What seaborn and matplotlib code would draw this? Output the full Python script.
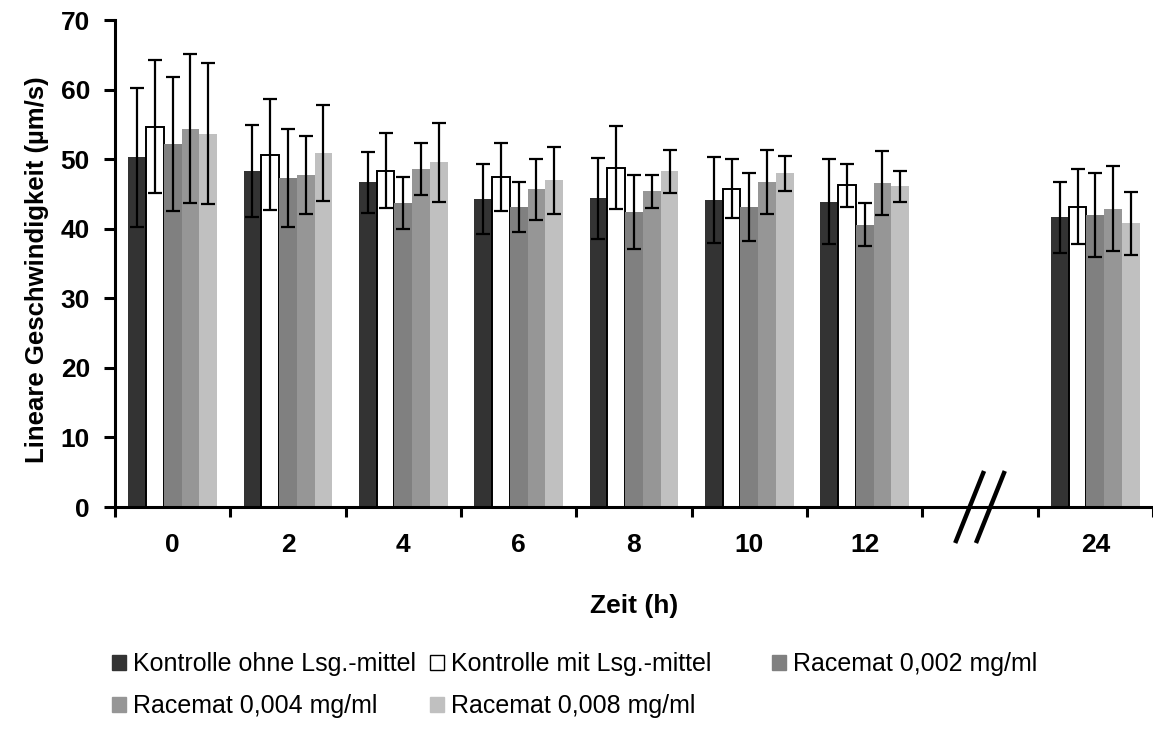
import numpy as np
import pandas as pd
import seaborn as sns
import matplotlib
matplotlib.use('Agg')
import matplotlib.pyplot as plt

# values
zeiten = ['0', '2', '4', '6', '8', '10', '12', '24']
gruppen = ['Kontrolle ohne Lsg.-mittel', 'Kontrolle mit Lsg.-mittel',
           'Racemat 0,002 mg/ml', 'Racemat 0,004 mg/ml', 'Racemat 0,008 mg/ml']
farben = ['#333333', '#ffffff', '#808080', '#969696', '#c0c0c0']

ohne_mw = [50.3, 48.3, 46.7, 44.3, 44.4, 44.2, 43.9, 41.7]
ohne_sd = [10.0, 6.6, 4.4, 5.1, 5.8, 6.2, 6.1, 5.1]
mit_mw = [54.7, 50.7, 48.4, 47.5, 48.8, 45.8, 46.3, 43.2]
mit_sd = [9.6, 8.0, 5.4, 4.9, 6.0, 4.2, 3.1, 5.4]
rac002_mw = [52.2, 47.3, 43.7, 43.2, 42.4, 43.2, 40.6, 42.0]
rac002_sd = [9.6, 7.0, 3.7, 3.6, 5.3, 4.9, 3.1, 6.0]
rac004_mw = [54.4, 47.7, 48.6, 45.7, 45.4, 46.7, 46.6, 42.9]
rac004_sd = [10.7, 5.6, 3.7, 4.4, 2.4, 4.6, 4.6, 6.1]
rac008_mw = [53.7, 50.9, 49.6, 47.0, 48.3, 48.0, 46.1, 40.8]
rac008_sd = [10.1, 6.9, 5.7, 4.8, 3.1, 2.5, 2.2, 4.5]

mittel = [ohne_mw, mit_mw, rac002_mw, rac004_mw, rac008_mw]
streu = [ohne_sd, mit_sd, rac002_sd, rac004_sd, rac008_sd]

rows = []
for g, mw, sd in zip(gruppen, mittel, streu):
    for z, m, s in zip(zeiten, mw, sd):
        rows.append({'Zeit': z, 'Gruppe': g, 'v': m, 'sd': s})
df = pd.DataFrame(rows)

# empty slot for the axis break between 12 and 24 h
order = zeiten[:7] + [' '] + zeiten[7:]

sns.set_style('white')
plt.rcParams['font.family'] = ['Liberation Sans', 'DejaVu Sans']
plt.rcParams['text.color'] = 'black'
plt.rcParams['axes.labelcolor'] = 'black'
plt.rcParams['xtick.color'] = 'black'
plt.rcParams['ytick.color'] = 'black'

fig = plt.figure(figsize=(11.53, 7.31), dpi=100)
ax = fig.add_axes([0.0997, 0.3064, 0.9003, 0.6658])

sns.barplot(data=df, x='Zeit', y='v', hue='Gruppe', order=order,
            hue_order=gruppen, palette=dict(zip(gruppen, farben)),
            width=0.77, errorbar=None, saturation=1, legend=False,
            linewidth=0, ax=ax)

# white control bars get a black outline
for bar in ax.containers[1]:
    bar.set_edgecolor('black')
    bar.set_linewidth(1.4)

# error bars (SD) on top of each bar
sd_lookup = df.set_index(['Zeit', 'Gruppe'])['sd']
for g, cont in zip(gruppen, ax.containers):
    xs, ys, es = [], [], []
    for bar in cont:
        xc = bar.get_x() + bar.get_width() / 2
        z = order[int(round(xc))]
        xs.append(xc)
        ys.append(bar.get_height())
        es.append(sd_lookup[(z, g)])
    ax.errorbar(xs, ys, yerr=es, fmt='none', ecolor='black',
                elinewidth=1.6, capsize=5.2, capthick=1.6, zorder=3)

ax.set_ylim(0, 70)
ax.set_yticks(np.arange(0, 71, 10))
ax.set_xlim(-0.5, len(order) - 0.5)
ax.set_xticks(np.arange(len(order)))
ax.set_xticklabels(order)
ax.set_xticks(np.arange(-0.5, len(order), 1), minor=True)

for s in ['top', 'right']:
    ax.spines[s].set_visible(False)
for s in ['left', 'bottom']:
    ax.spines[s].set_linewidth(2.2)
    ax.spines[s].set_color('black')

ax.tick_params(axis='x', which='major', length=0, pad=19, labelsize=19)
ax.tick_params(axis='x', which='minor', length=7, width=2.2, color='black',
               direction='out', bottom=True)
ax.tick_params(axis='y', length=8, width=2.2, color='black', direction='out',
               left=True, pad=10, labelsize=19)
for lab in ax.get_xticklabels() + ax.get_yticklabels():
    lab.set_fontweight('bold')

ax.set_xlabel('Zeit (h)', fontsize=19, fontweight='bold')
ax.set_ylabel('Lineare Geschwindigkeit (µm/s)', fontsize=18.5, fontweight='bold')
ax.xaxis.set_label_coords(0.5, -0.203)
ax.xaxis.label.set_va('center')
ax.yaxis.set_label_coords(-0.0751, 0.487)
ax.yaxis.label.set_va('center')

# axis break marks
trans = ax.get_xaxis_transform()
for dx in (-0.09, 0.09):
    ax.plot([7 + dx - 0.125, 7 + dx + 0.125], [-0.074, 0.074], color='black',
            lw=3.2, transform=trans, clip_on=False, solid_capstyle='butt')

# legend: three columns, filled row by row like the original
handles = ax.containers
spalten = [[0, 3], [1, 4], [2]]
x_pos = [112, 430, 772]
for idx, x0 in zip(spalten, x_pos):
    leg = fig.legend([handles[i] for i in idx], [gruppen[i] for i in idx],
                     loc='upper left', bbox_to_anchor=(x0 / 1153, 1 - 652 / 731),
                     frameon=False, fontsize=18, handlelength=0.55,
                     handleheight=0.55, handletextpad=0.3, borderpad=0,
                     borderaxespad=0, labelspacing=0.72)
    for p in leg.get_patches():
        p.set_edgecolor('black' if p.get_facecolor()[0] == 1 else p.get_facecolor())
        p.set_linewidth(1.0)

fig.savefig('out.png', dpi=100)
